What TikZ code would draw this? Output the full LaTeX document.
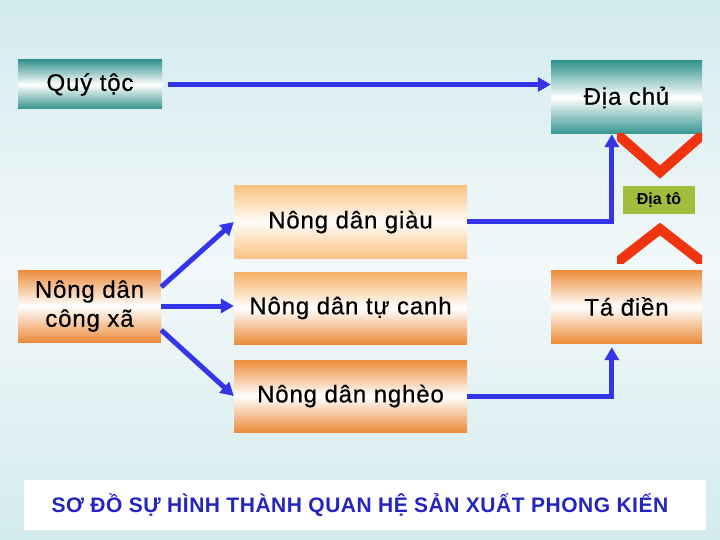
\documentclass[tikz,border=0pt]{standalone}
\usepackage{fontspec}
\setmainfont{Liberation Sans}
\newfontfamily\boxfont[LetterSpace=3.5,FakeBold=0.5]{Liberation Sans}
\newfontfamily\titfont[LetterSpace=2.5]{Liberation Sans}
\usetikzlibrary{arrows.meta}
\definecolor{bgc}{RGB}{211,235,238}
\definecolor{bgm}{RGB}{242,248,249}
\definecolor{tealc}{RGB}{52,148,143}
\definecolor{orc}{RGB}{236,140,58}
\definecolor{orl}{RGB}{249,196,130}
\definecolor{orm}{RGB}{246,176,100}
\definecolor{arrc}{RGB}{52,52,232}
\definecolor{redc}{RGB}{240,52,16}
\definecolor{grc}{RGB}{160,190,60}
\definecolor{titc}{RGB}{36,36,190}
\begin{document}
\begin{tikzpicture}[x=1pt,y=-1pt,
  box/.style={rectangle, inner sep=0pt, align=center,
    font=\boxfont\fontsize{24}{29}\selectfont},
  tealbox/.style={box, top color=tealc, bottom color=tealc, middle color=white},
  orbox/.style={box, top color=orc, bottom color=orc, middle color=white},
  arr/.style={draw=arrc, line width=5pt, -{Triangle[length=13pt,width=14pt]}},
  chev/.style={draw=redc, line width=10pt, miter limit=10}]
\useasboundingbox (0,0) rectangle (720,540);
\shade[top color=bgc, bottom color=bgc, middle color=bgm] (0,0) rectangle (720,540);

\node[tealbox, minimum width=144pt, minimum height=49pt] (qt) at (90,84.5) {Quý tộc};
\node[tealbox, minimum width=151pt, minimum height=73pt] (dc) at (626.5,97.5) {Địa chủ};
\node[box, top color=orl, bottom color=orl, middle color=white!95!orl, minimum width=233pt, minimum height=72pt] (ndg) at (350.5,222) {Nông dân giàu};
\node[orbox, minimum width=143pt, minimum height=72pt] (cx) at (89.5,306) {Nông dân\\công xã};
\node[box, top color=orm, bottom color=orc, middle color=white, minimum width=233pt, minimum height=72pt] (tc) at (350.5,308) {Nông dân tự canh};
\node[orbox, minimum width=233pt, minimum height=72pt] (ndn) at (350.5,396) {Nông dân nghèo};
\node[orbox, minimum width=151pt, minimum height=73pt] (td) at (626.5,306.5) {Tá điền};
\node[rectangle, fill=grc, minimum width=72pt, minimum height=28pt, inner sep=0pt,
  font=\bfseries\fontsize{16}{18}\selectfont] (dt) at (659,200) {Địa tô};

\begin{scope}
\clip (617,134) rectangle (702,263);
\draw[chev] (610,128) -- (660,172) -- (710,128);
\draw[chev] (610,268) -- (660,229) -- (710,268);
\end{scope}

\draw[arr] ([xshift=6pt]qt.east) -- (qt.east -| dc.west);
\draw[arr] (ndg.east) -| ([xshift=61pt]dc.south west);
\draw[arr] (ndn.east) -| ([xshift=61pt,yshift=-4pt]td.south west);
\draw[arr] ([yshift=19pt]cx.east) -- (ndg.west);
\draw[arr] (cx.east) -- (cx.east -| tc.west);
\draw[arr] ([yshift=-24pt]cx.east) -- (ndn.west);

\node[rectangle, fill=white, minimum width=682pt, minimum height=50pt, inner sep=0pt,
  text=titc, font=\titfont\bfseries\fontsize{21}{24}\selectfont] (title) at (365,505)
  {SƠ ĐỒ SỰ HÌNH THÀNH QUAN HỆ SẢN XUẤT PHONG KIẾN\hspace*{10pt}};
\end{tikzpicture}
\end{document}
